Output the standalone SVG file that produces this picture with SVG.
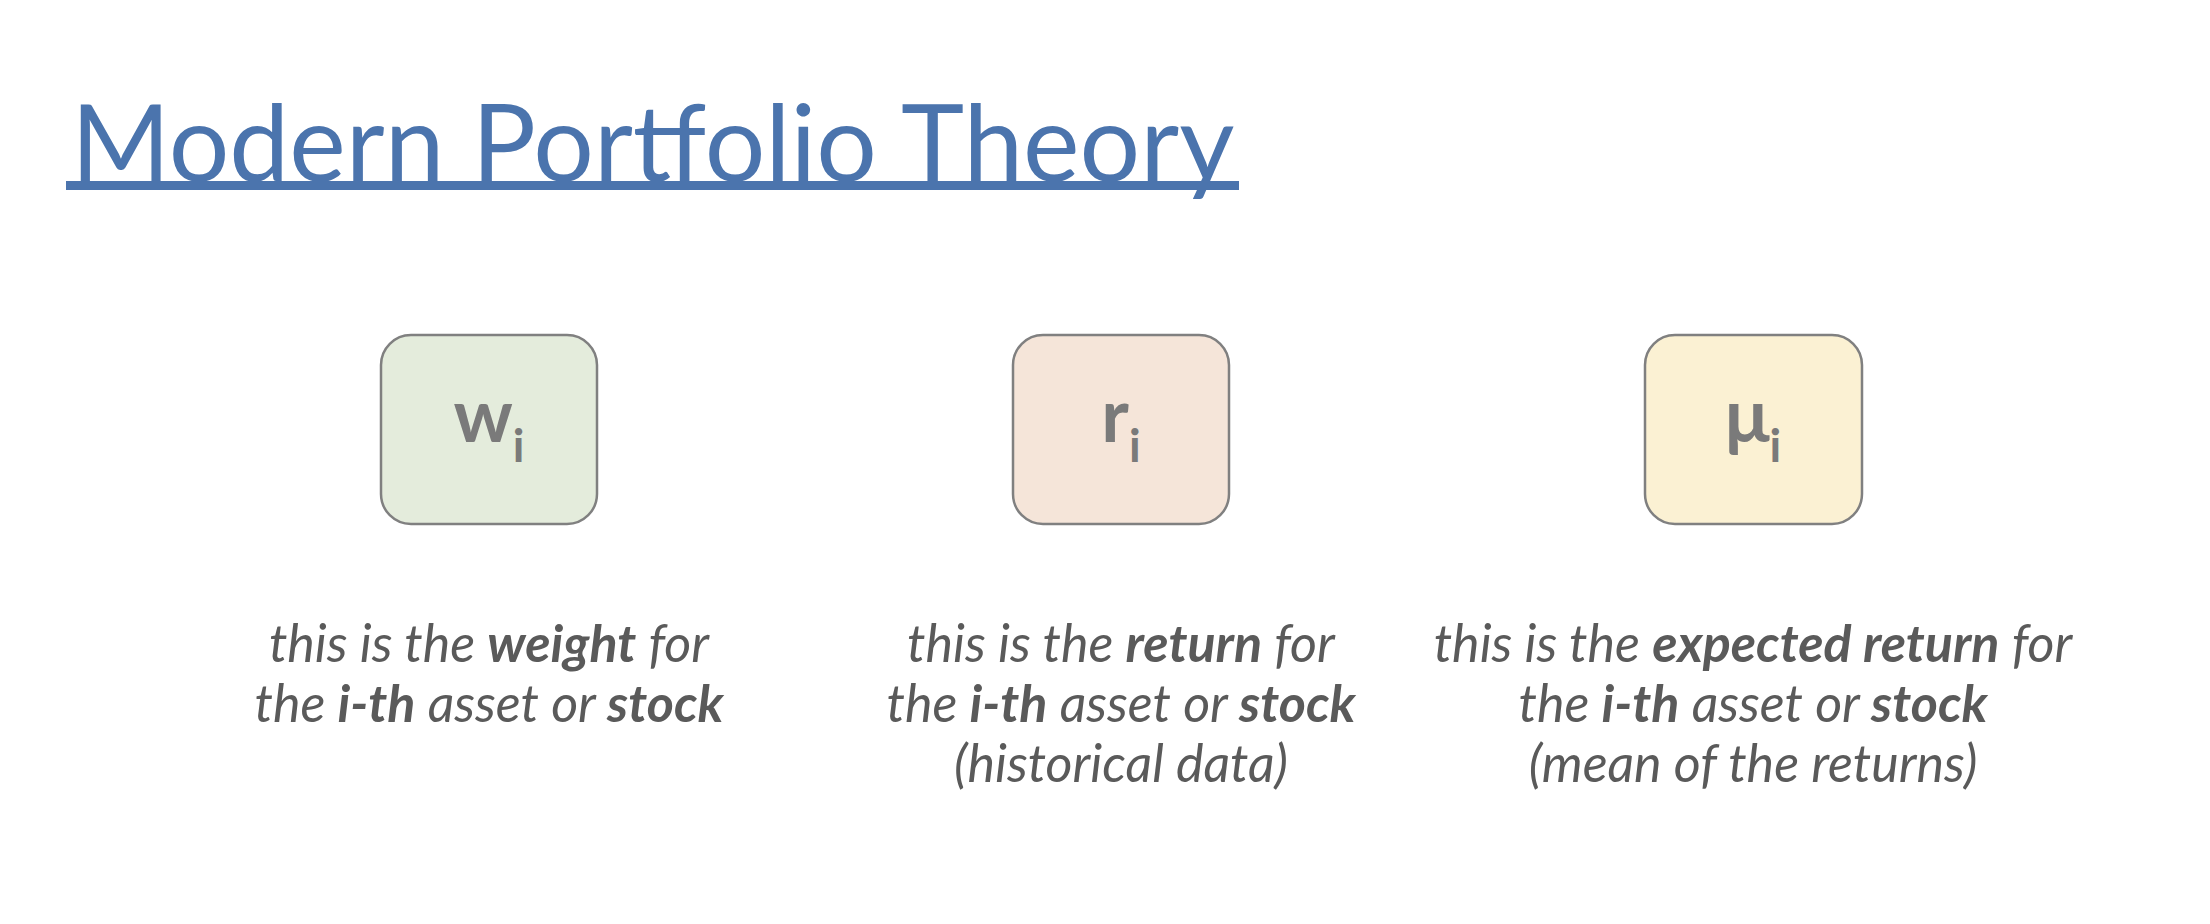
<svg xmlns="http://www.w3.org/2000/svg" width="2210" height="924" viewBox="0 0 2210 924">
  <style>
    .title { font-family: Lato, "Liberation Sans", sans-serif; font-size: 107px; fill: #4b74ad; }
    .card { stroke: #808080; stroke-width: 2.5; }
    .sym { font-family: Lato, "Liberation Sans", sans-serif; font-weight: bold; fill: #7a7a7a; }
    .main { font-size: 74px; }
    .sub { font-size: 46px; }
    .cap { font-family: Lato, "Liberation Sans", sans-serif; font-style: italic; font-size: 52px; fill: #5a5a5a; text-anchor: middle; }
    .b { font-weight: bold; }
  </style>
  <rect width="2210" height="924" fill="#ffffff"/>

  <!-- heading with thick underline -->
  <g id="title">
    <text class="title" x="71" y="181">Modern Portfolio Theory</text>
    <rect x="66" y="181" width="1173" height="9" fill="#4b74ad"/>
  </g>

  <!-- weight -->
  <g id="weight">
    <rect class="card" x="381" y="335" width="216" height="189" rx="30" fill="#e4ecdc"/>
    <text class="sym" x="489" y="442" text-anchor="middle"><tspan class="main">w</tspan><tspan class="sub" dy="20">i</tspan></text>
    <text class="cap" x="489" y="662">this is the <tspan class="b">weight</tspan> for</text>
    <text class="cap" x="489" y="722">the <tspan class="b">i-th</tspan> asset or <tspan class="b">stock</tspan></text>
  </g>

  <!-- return -->
  <g id="return">
    <rect class="card" x="1013" y="335" width="216" height="189" rx="30" fill="#f5e5d9"/>
    <text class="sym" x="1121" y="442" text-anchor="middle"><tspan class="main">r</tspan><tspan class="sub" dy="20">i</tspan></text>
    <text class="cap" x="1121" y="662">this is the <tspan class="b">return</tspan> for</text>
    <text class="cap" x="1121" y="722">the <tspan class="b">i-th</tspan> asset or <tspan class="b">stock</tspan></text>
    <text class="cap" x="1121" y="782">(historical data)</text>
  </g>

  <!-- expected return -->
  <g id="expected-return">
    <rect class="card" x="1645" y="335" width="217" height="189" rx="30" fill="#fbf1d3"/>
    <text class="sym" x="1753" y="442" text-anchor="middle"><tspan class="main">μ</tspan><tspan class="sub" dy="20">i</tspan></text>
    <text class="cap" x="1753" y="662">this is the <tspan class="b">expected return</tspan> for</text>
    <text class="cap" x="1753" y="722">the <tspan class="b">i-th</tspan> asset or <tspan class="b">stock</tspan></text>
    <text class="cap" x="1753" y="782">(mean of the returns)</text>
  </g>

  <g id="connectors"/>
</svg>
